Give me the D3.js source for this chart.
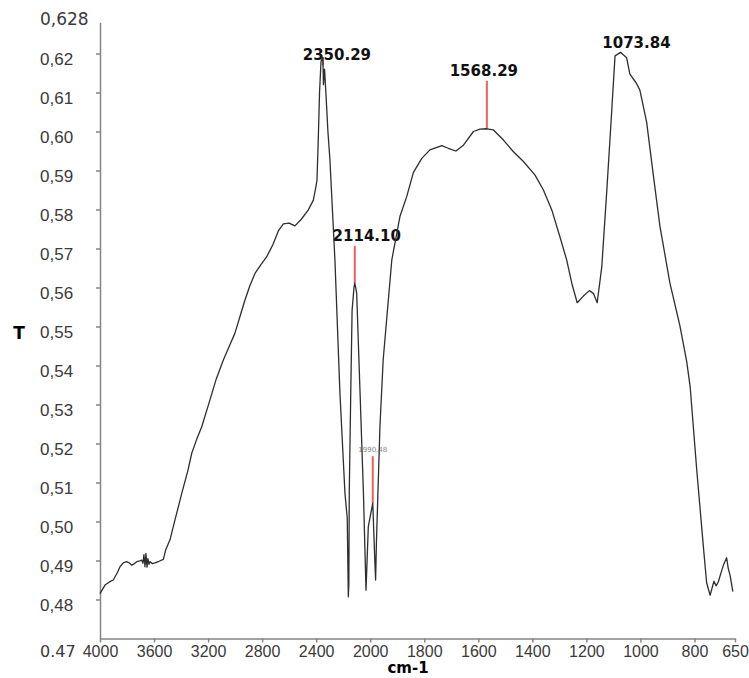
<!DOCTYPE html>
<html>
<head>
<meta charset="utf-8">
<script src="https://cdn.jsdelivr.net/npm/d3@7"></script>
<style>
  body { margin: 0; background: #fff; }
  svg { display: block; font-family: "DejaVu Sans", Verdana, sans-serif; }
</style>
</head>
<body>
<script>
// FTIR spectrum (cm-1 -> T)
const wavenumber = [
    4000, 3963, 3930, 3902, 3870, 3852, 3828, 3802, 3780, 3765, 3745, 3728, 3705, 3691,
    3682, 3675, 3667, 3660, 3652, 3645, 3637, 3630, 3612, 3593, 3563, 3531, 3514, 3482,
    3445, 3395, 3350, 3321, 3285, 3247, 3186, 3140, 3087, 3040, 3001, 2960, 2927, 2890,
    2853, 2810, 2766, 2720, 2680, 2643, 2600, 2557, 2510, 2458, 2421, 2401, 2394, 2386,
    2375, 2364, 2350.29, 2346, 2338, 2328, 2313, 2298, 2261, 2224, 2187, 2170, 2162,
    2158, 2155, 2144, 2134, 2120, 2114.10, 2105, 2100, 2075, 2050, 2031, 2014, 1990.48,
    1983, 1980, 1977, 1964, 1952, 1920, 1890, 1865, 1840, 1809, 1779, 1735, 1711, 1683,
    1655, 1618, 1594, 1568.29, 1544, 1507, 1470, 1433, 1390, 1359, 1328, 1298, 1273,
    1254, 1234, 1211, 1189, 1174, 1160, 1143, 1125, 1106, 1094, 1073.84, 1051, 1039,
    1016, 1002, 977, 952, 928, 891, 854, 829, 816, 792, 767, 755, 742, 728, 720, 712,
    693, 681, 675, 668, 658
];
const transmittance = [
    0.4815, 0.4837, 0.4845, 0.4850, 0.4870, 0.4884, 0.4894, 0.4897, 0.4893, 0.4888, 0.4892, 0.4897, 0.4899, 0.4901,
    0.4893, 0.4915, 0.4884, 0.4918, 0.4883, 0.4905, 0.4890, 0.4897, 0.4892, 0.4894, 0.4898, 0.4903, 0.4927, 0.4953,
    0.5004, 0.5072, 0.5130, 0.5175, 0.5210, 0.5243, 0.5312, 0.5365, 0.5414, 0.5452, 0.5483, 0.5530, 0.5568, 0.5605,
    0.5636, 0.5658, 0.5679, 0.5710, 0.5745, 0.5763, 0.5765, 0.5758, 0.5775, 0.5799, 0.5824, 0.5860, 0.5875, 0.5960,
    0.6100, 0.6180, 0.6190, 0.6120, 0.6160, 0.6100, 0.6000, 0.5927, 0.5670, 0.5329, 0.5073, 0.5009, 0.4807,
    0.4840, 0.5073, 0.5329, 0.5542, 0.5600, 0.5612, 0.5595, 0.5585, 0.5329, 0.5072, 0.4824, 0.4987, 0.5047,
    0.4901, 0.4850, 0.4945, 0.5243, 0.5414, 0.5671, 0.5782, 0.5833, 0.5895, 0.5931, 0.5953, 0.5964, 0.5957, 0.5950,
    0.5965, 0.6000, 0.6006, 0.6007, 0.6004, 0.5978, 0.5948, 0.5923, 0.5888, 0.5850, 0.5799, 0.5730, 0.5671,
    0.5611, 0.5561, 0.5578, 0.5592, 0.5585, 0.5561, 0.5653, 0.5842, 0.6055, 0.6194, 0.6203, 0.6189, 0.6147,
    0.6125, 0.6106, 0.6024, 0.5887, 0.5758, 0.5612, 0.5502, 0.5411, 0.5346, 0.5136, 0.4935, 0.4843, 0.4811, 0.4847, 0.4835, 0.4845,
    0.4888, 0.4907, 0.4880, 0.4861, 0.4820
];

const xTicks = [4000, 3600, 3200, 2800, 2400, 2000, 1800, 1600, 1400, 1200, 1000, 800, 650];
const yTicks = [0.48, 0.49, 0.50, 0.51, 0.52, 0.53, 0.54, 0.55, 0.56, 0.57, 0.58, 0.59, 0.60, 0.61, 0.62];

const peakLabels = ["2350.29", "2114.10", "1990.48", "1568.29", "1073.84"];
const peakWavenumber = [2350.29, 2114.10, 1990.48, 1568.29, 1073.84];

document.addEventListener("DOMContentLoaded", function () {
    const width = 749, height = 678;

    const svg = d3.select("body")
        .append("svg")
        .attr("width", width)
        .attr("height", height);

    // the x axis changes scale at 2000 cm-1, like the instrument plot
    const x = d3.scaleLinear().domain([4000, 2000, 650]).range([100, 370.2, 735]);
    const y = d3.scaleLinear().domain([0.47, 0.628]).range([638.5, 22.3]);

    const axisColor = "#858585";
    const labelColor = "#3a3a3a";

    // y axis
    const yAxis = svg.append("g")
        .attr("transform", "translate(100,0)")
        .call(d3.axisLeft(y).tickValues(yTicks).tickSize(4).tickSizeOuter(0)
            .tickFormat(d => d3.format(".2f")(d).replace(".", ",")));

    yAxis.selectAll("text")
        .attr("x", -60)
        .attr("dy", "0.35em")
        .attr("transform", "translate(0,5)")
        .style("text-anchor", "start")
        .style("font-size", "17px")
        .style("fill", labelColor);

    // x axis
    const xAxis = svg.append("g")
        .attr("transform", `translate(0,${y(0.47)})`)
        .call(d3.axisBottom(x).tickValues(xTicks).tickSize(4).tickSizeOuter(0)
            .tickFormat(d3.format("d")));

    xAxis.selectAll("text")
        .style("font-size", "16px")
        .style("fill", labelColor);

    svg.selectAll(".domain, .tick line")
        .attr("stroke", axisColor)
        .attr("stroke-width", 1.5);

    // extra corner labels
    svg.append("text")
        .attr("x", 40).attr("y", y(0.628) - 3).attr("dy", "0.35em")
        .style("font-size", "17px").style("fill", labelColor)
        .text("0,628");

    svg.append("text")
        .attr("x", 40).attr("y", y(0.47) + 13).attr("dy", "0.35em")
        .style("font-size", "16px").style("fill", labelColor)
        .text("0.47");

    // axis titles
    svg.append("text")
        .attr("x", 408).attr("y", 673)
        .attr("text-anchor", "middle")
        .style("font-size", "15px").style("font-weight", "bold")
        .text("cm-1");

    svg.append("text")
        .attr("x", 19).attr("y", 339)
        .attr("text-anchor", "middle")
        .style("font-size", "17px").style("font-weight", "bold")
        .text("T");

    // peak markers (label position tweaks only)
    const labelLift = [-3, 42, 51, 53, 4];
    const labelDx = [14, 12, 0, -3, 16];
    const peaks = peakLabels.map((label, i) => {
        const idx = wavenumber.indexOf(peakWavenumber[i]);
        return { label: label, w: peakWavenumber[i], t: transmittance[idx], lift: labelLift[i], dx: labelDx[i], small: i === 2 };
    });

    const pk = svg.append("g");

    pk.selectAll("line")
        .data(peaks)
        .enter()
        .append("line")
        .attr("x1", d => x(d.w))
        .attr("x2", d => x(d.w))
        .attr("y1", d => y(d.t) - d.lift + (d.small ? 4 : 5))
        .attr("y2", d => y(d.t))
        .attr("stroke", "#f25c5c")
        .attr("stroke-width", 2);

    pk.selectAll("text")
        .data(peaks)
        .enter()
        .append("text")
        .attr("x", d => x(d.w) + d.dx)
        .attr("y", d => y(d.t) - d.lift)
        .attr("text-anchor", "middle")
        .style("font-size", d => d.small ? "7px" : "15px")
        .style("font-weight", d => d.small ? "normal" : "bold")
        .style("fill", d => d.small ? "#888" : "#111")
        .text(d => d.label);

    // spectrum
    const points = wavenumber.map((w, i) => [w, transmittance[i]]);

    const line = d3.line()
        .x(d => x(d[0]))
        .y(d => y(d[1]));

    svg.append("path")
        .datum(points)
        .attr("fill", "none")
        .attr("stroke", "#2e2e2e")
        .attr("stroke-width", 1.3)
        .attr("stroke-linejoin", "round")
        .attr("d", line);
});
</script>
</body>
</html>
